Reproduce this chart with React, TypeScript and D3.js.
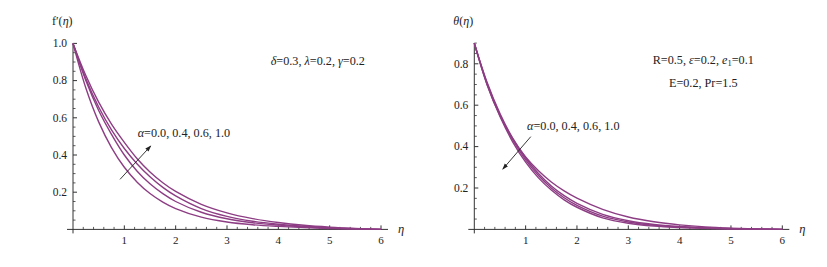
import React from 'react';
import * as d3 from 'd3';

// eta grid shared by every curve
const eta = [0, 0.25, 0.5, 0.75, 1, 1.25, 1.5, 1.75, 2, 2.5, 3, 3.5, 4, 4.5, 5, 5.5, 6];

// f'(eta), alpha = 0.0, 0.4, 0.6, 1.0
const fA00 = [1, 0.76, 0.578, 0.44, 0.334, 0.254, 0.193, 0.147, 0.112, 0.066, 0.04, 0.025, 0.016, 0.0095, 0.005, 0.002, 0];
const fA04 = [1, 0.8, 0.639, 0.511, 0.4, 0.313, 0.245, 0.192, 0.15, 0.092, 0.057, 0.036, 0.023, 0.0135, 0.007, 0.003, 0];
const fA06 = [1, 0.81, 0.658, 0.535, 0.435, 0.352, 0.283, 0.226, 0.18, 0.112, 0.07, 0.044, 0.028, 0.017, 0.009, 0.004, 0];
const fA10 = [1, 0.827, 0.684, 0.566, 0.468, 0.38, 0.309, 0.251, 0.204, 0.135, 0.089, 0.058, 0.037, 0.022, 0.012, 0.005, 0];

// theta(eta), alpha = 0.0, 0.4, 0.6, 1.0
const tA00 = [0.9, 0.698, 0.55, 0.437, 0.35, 0.283, 0.229, 0.186, 0.151, 0.097, 0.06, 0.037, 0.022, 0.012, 0.006, 0.002, 0];
const tA04 = [0.9, 0.71, 0.56, 0.44, 0.345, 0.27, 0.21, 0.163, 0.126, 0.073, 0.042, 0.024, 0.014, 0.008, 0.004, 0.002, 0];
const tA06 = [0.9, 0.705, 0.553, 0.432, 0.336, 0.26, 0.2, 0.153, 0.116, 0.064, 0.036, 0.02, 0.011, 0.006, 0.003, 0.001, 0];
const tA10 = [0.9, 0.7, 0.545, 0.422, 0.325, 0.249, 0.19, 0.143, 0.107, 0.056, 0.03, 0.016, 0.009, 0.005, 0.002, 0.001, 0];

const xTicks = [1, 2, 3, 4, 5, 6];
const fTicks = [0.2, 0.4, 0.6, 0.8, 1.0];
const tTicks = [0.2, 0.4, 0.6, 0.8];

const purple = '#8d3d84';
const axisCol = '#333';
const font = '"Liberation Serif", "Times New Roman", serif';

type PanelProps = {
  x0: number;
  yMax: number;
  yTop: number;
  series: number[][];
  yTicks: number[];
  yLabel: React.ReactNode;
  children: (x: d3.ScaleLinear<number, number>, y: d3.ScaleLinear<number, number>) => React.ReactNode;
};

const Panel = ({ x0, yMax, yTop, series, yTicks, yLabel, children }: PanelProps) => {
  const x = d3.scaleLinear().domain([0, 6]).range([x0, x0 + 308]);
  const y = d3.scaleLinear().domain([0, yMax]).range([229.4, yTop]);
  const line = d3
    .line<number>()
    .x((_, i) => x(eta[i]))
    .y((d) => y(d))
    .curve(d3.curveCatmullRom.alpha(0.5));

  const minorX = d3.range(1, 31).map((i) => i * 0.2).filter((v) => Math.abs(v - Math.round(v)) > 1e-6);
  const minorY = d3
    .range(1, Math.round(yMax / 0.05) + 1)
    .map((i) => i * 0.05)
    .filter((v) => Math.abs(v / 0.2 - Math.round(v / 0.2)) > 1e-6);

  return (
    <g>
      {/* axes */}
      <line x1={x(0) - 6} x2={x(6) + 7} y1={y(0)} y2={y(0)} stroke={axisCol} strokeWidth={1} />
      <line x1={x(0)} x2={x(0)} y1={y(0) + 4} y2={y(yMax)} stroke={axisCol} strokeWidth={1} />
      {xTicks.map((t) => (
        <g key={'xt' + t}>
          <line x1={x(t)} x2={x(t)} y1={y(0)} y2={y(0) - 4} stroke={axisCol} />
          <text x={x(t)} y={243.5} textAnchor="middle" fontSize={11} fontFamily={font} fill="#222">
            {t}
          </text>
        </g>
      ))}
      {minorX.map((t) => (
        <line key={'xm' + t} x1={x(t)} x2={x(t)} y1={y(0)} y2={y(0) - 2.5} stroke={axisCol} strokeWidth={0.8} />
      ))}
      {yTicks.map((t) => (
        <g key={'yt' + t}>
          <line x1={x(0)} x2={x(0) + 4} y1={y(t)} y2={y(t)} stroke={axisCol} />
          <text x={x(0) - 6} y={y(t) + 3.8} textAnchor="end" fontSize={11.5} fontFamily={font} fill="#222">
            {t.toFixed(1)}
          </text>
        </g>
      ))}
      {minorY.map((t) => (
        <line key={'ym' + t} x1={x(0)} x2={x(0) + 2.5} y1={y(t)} y2={y(t)} stroke={axisCol} strokeWidth={0.8} />
      ))}
      <text x={x(6) + 17} y={y(0) + 4} fontSize={12.5} fontFamily={font} fontStyle="italic" fill="#222">
        η
      </text>
      <text x={x(0) - 21} y={25} fontSize={12} fontFamily={font} fill="#222">
        {yLabel}
      </text>
      {/* curves */}
      {series.map((s, i) => (
        <path key={i} d={line(s) || ''} fill="none" stroke={purple} strokeWidth={1.4} />
      ))}
      {children(x, y)}
    </g>
  );
};

export default function App() {
  return (
    <svg
      width={827}
      height={267}
      style={{ position: 'absolute', left: 0, top: 0, background: '#fff' }}
    >
      <defs>
        <marker id="ah" viewBox="0 0 10 10" refX="9" refY="5" markerWidth="7" markerHeight="7" orient="auto">
          <path d="M0,1.5 L10,5 L0,8.5 z" fill="#222" />
        </marker>
      </defs>
      <Panel
        x0={73}
        yMax={1}
        yTop={43.4}
        series={[fA00, fA04, fA06, fA10]}
        yTicks={fTicks}
        yLabel={
          <>
            f′(<tspan fontStyle="italic">η</tspan>)
          </>
        }
      >
        {(x, y) => (
          <g fontFamily={font} fontSize={12.2} fill="#222">
            <line x1={x(0.916)} y1={y(0.269)} x2={x(1.515)} y2={y(0.449)} stroke="#222" strokeWidth={0.9} markerEnd="url(#ah)" />
            <text x={x(1.26)} y={y(0.497)}>
              <tspan fontStyle="italic">α</tspan>=0.0, 0.4, 0.6, 1.0
            </text>
            <text x={x(3.85)} y={y(0.883)}>
              <tspan fontStyle="italic">δ</tspan>=0.3, <tspan fontStyle="italic">λ</tspan>=0.2,{' '}
              <tspan fontStyle="italic">γ</tspan>=0.2
            </text>
          </g>
        )}
      </Panel>
      <Panel
        x0={474.3}
        yMax={0.9}
        yTop={43.1}
        series={[tA00, tA04, tA06, tA10]}
        yTicks={tTicks}
        yLabel={
          <>
            <tspan fontStyle="italic">θ</tspan>(<tspan fontStyle="italic">η</tspan>)
          </>
        }
      >
        {(x, y) => (
          <g fontFamily={font} fontSize={12.2} fill="#222">
            <line x1={x(1.1)} y1={y(0.448)} x2={x(0.554)} y2={y(0.291)} stroke="#222" strokeWidth={0.9} markerEnd="url(#ah)" />
            <text x={x(1.027)} y={y(0.48)}>
              <tspan fontStyle="italic">α</tspan>=0.0, 0.4, 0.6, 1.0
            </text>
            <text x={x(4.46)} y={y(0.8)} textAnchor="middle">
              R=0.5, <tspan fontStyle="italic">ε</tspan>=0.2, <tspan fontStyle="italic">e</tspan>
              <tspan fontSize={8.5} dy={2}>1</tspan>
              <tspan dy={-2}>=0.1</tspan>
            </text>
            <text x={x(4.46)} y={y(0.688)} textAnchor="middle">
              E=0.2, Pr=1.5
            </text>
          </g>
        )}
      </Panel>
    </svg>
  );
}
